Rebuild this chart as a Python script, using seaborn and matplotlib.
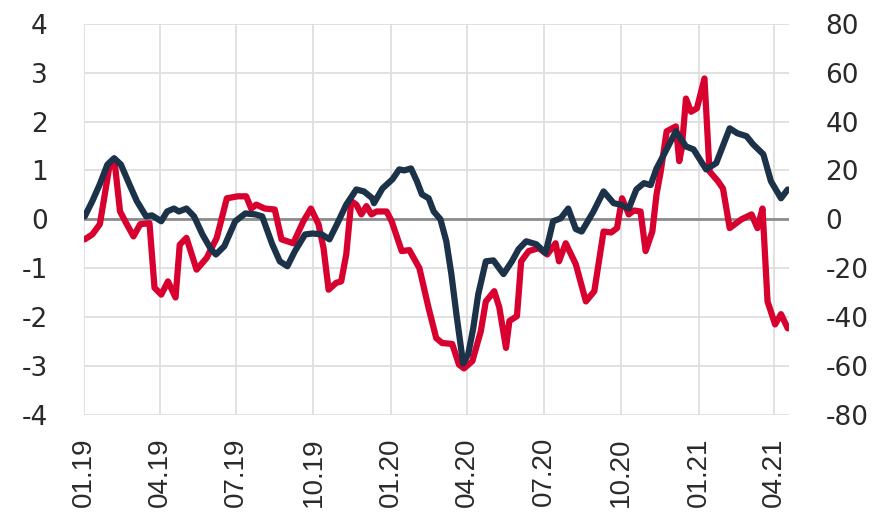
import seaborn as sns
import matplotlib.pyplot as plt
import matplotlib.dates as mdates
import pandas as pd

sns.set_style("white")
plt.rcParams["axes.unicode_minus"] = False

# red series (left axis)
red_dates = ["2019-01-02", "2019-01-11", "2019-01-20", "2019-02-01", "2019-02-07", "2019-02-13",
             "2019-02-21", "2019-03-01", "2019-03-09", "2019-03-20", "2019-03-26", "2019-04-03",
             "2019-04-11", "2019-04-20", "2019-04-25", "2019-05-03", "2019-05-15", "2019-05-27",
             "2019-06-08", "2019-06-20", "2019-07-03", "2019-07-13", "2019-07-19", "2019-07-25",
             "2019-08-04", "2019-08-16", "2019-08-24", "2019-09-07", "2019-09-19", "2019-09-28",
             "2019-10-07", "2019-10-13", "2019-10-19", "2019-10-28", "2019-11-03", "2019-11-09",
             "2019-11-15", "2019-11-21", "2019-11-27", "2019-12-03", "2019-12-09", "2019-12-15",
             "2019-12-27", "2020-01-02", "2020-01-14", "2020-01-23", "2020-02-04", "2020-02-15",
             "2020-02-24", "2020-03-02", "2020-03-14", "2020-03-22", "2020-03-28", "2020-04-07",
             "2020-04-17", "2020-04-23", "2020-05-03", "2020-05-09", "2020-05-17", "2020-05-21",
             "2020-05-30", "2020-06-04", "2020-06-13", "2020-06-25", "2020-07-05", "2020-07-15",
             "2020-07-19", "2020-07-27", "2020-08-08", "2020-08-20", "2020-08-30", "2020-09-10",
             "2020-09-19", "2020-09-26", "2020-10-02", "2020-10-10", "2020-10-16", "2020-10-24",
             "2020-10-30", "2020-11-07", "2020-11-12", "2020-11-17", "2020-11-24", "2020-12-05",
             "2020-12-09", "2020-12-12", "2020-12-17", "2020-12-23", "2020-12-30", "2021-01-08",
             "2021-01-14", "2021-01-24", "2021-01-30", "2021-02-07", "2021-02-21", "2021-03-05",
             "2021-03-12", "2021-03-18", "2021-03-24", "2021-04-02", "2021-04-09", "2021-04-17"]
red_values = [-0.41, -0.31, -0.1, 1.15, 1.1, 0.16,
              -0.1, -0.35, -0.1, -0.08, -1.4, -1.54,
              -1.27, -1.6, -0.52, -0.38, -1.03, -0.79,
              -0.38, 0.43, 0.47, 0.47, 0.22, 0.3,
              0.22, 0.2, -0.41, -0.49, -0.04, 0.22,
              -0.1, -0.59, -1.44, -1.3, -1.27, -0.72,
              0.37, 0.3, 0.1, 0.27, 0.1, 0.16,
              0.16, -0.04, -0.65, -0.63, -1.0, -1.82,
              -2.43, -2.53, -2.55, -2.97, -3.05, -2.9,
              -2.29, -1.68, -1.47, -1.8, -2.63, -2.08,
              -1.98, -0.86, -0.65, -0.59, -0.72, -0.49,
              -0.86, -0.49, -0.92, -1.68, -1.47, -0.25,
              -0.27, -0.18, 0.43, 0.1, 0.18, 0.16,
              -0.65, -0.25, 0.51, 0.98, 1.8, 1.9,
              1.19, 1.45, 2.47, 2.2, 2.27, 2.88,
              0.98, 0.78, 0.63, -0.18, 0.0, 0.1,
              -0.18, 0.22, -1.68, -2.15, -1.94, -2.23]

# navy series (right axis)
navy_dates = ["2019-01-02", "2019-01-11", "2019-01-20", "2019-01-29", "2019-02-06", "2019-02-14",
              "2019-02-24", "2019-03-05", "2019-03-16", "2019-03-23", "2019-04-03", "2019-04-10",
              "2019-04-18", "2019-04-24", "2019-05-03", "2019-05-12", "2019-05-22", "2019-06-01",
              "2019-06-07", "2019-06-17", "2019-06-30", "2019-07-12", "2019-07-24", "2019-08-01",
              "2019-08-13", "2019-08-22", "2019-08-31", "2019-09-09", "2019-09-21", "2019-09-30",
              "2019-10-11", "2019-10-20", "2019-10-29", "2019-11-09", "2019-11-21", "2019-11-30",
              "2019-12-10", "2019-12-12", "2019-12-22", "2020-01-03", "2020-01-11", "2020-01-17",
              "2020-01-25", "2020-02-01", "2020-02-07", "2020-02-15", "2020-02-21", "2020-02-29",
              "2020-03-07", "2020-03-13", "2020-03-19", "2020-03-27", "2020-04-02", "2020-04-08",
              "2020-04-14", "2020-04-23", "2020-05-02", "2020-05-14", "2020-05-24", "2020-06-01",
              "2020-06-10", "2020-06-22", "2020-07-03", "2020-07-12", "2020-07-21", "2020-07-30",
              "2020-08-08", "2020-08-15", "2020-08-29", "2020-09-10", "2020-09-22", "2020-09-30",
              "2020-10-10", "2020-10-19", "2020-10-28", "2020-11-05", "2020-11-12", "2020-11-20",
              "2020-12-05", "2020-12-17", "2020-12-26", "2021-01-10", "2021-01-22", "2021-02-07",
              "2021-02-16", "2021-02-27", "2021-03-07", "2021-03-19", "2021-03-28", "2021-04-09",
              "2021-04-17"]
navy_values = [1.2, 7.4, 14.4, 22.4, 25, 22.4,
               14.4, 7.4, 1.2, 1.6, -0.8, 3.2,
               4.4, 3.2, 4.4, 1.2, -6.2, -12.2,
               -14.4, -11, -0.8, 2.4, 2, 1.2,
               -10.2, -17.2, -19.2, -13, -6.2, -5.8,
               -6.2, -8.2, -2, 6, 12.2, 11.4,
               8.6, 6.6, 12.6, 16.4, 20.4, 20,
               20.8, 15.6, 10.2, 8.6, 3.2, 0,
               -9, -22.4, -38.8, -59, -55.2, -44.6,
               -30.6, -17.2, -16.8, -22.4, -17.2, -12.2,
               -9, -10.2, -13.8, -0.8, 0.4, 4.4,
               -4, -5, 3.2, 11.4, 6.6, 6,
               4.4, 12.2, 14.8, 14, 20.8, 26,
               36, 29.8, 28.6, 20.4, 23, 37.2,
               35.2, 34, 30.6, 26.6, 15.6, 8.6,
               12.2]

left_ticks = [-4, -3, -2, -1, 0, 1, 2, 3, 4]
right_ticks = [-80, -60, -40, -20, 0, 20, 40, 60, 80]

red_df = pd.DataFrame({"date": pd.to_datetime(red_dates), "value": red_values})
navy_df = pd.DataFrame({"date": pd.to_datetime(navy_dates), "value": navy_values})

fig = plt.figure(figsize=(8.83, 5.16), dpi=100)
ax = fig.add_axes([0.095, 0.196, 0.799, 0.758])
ax2 = ax.twinx()

ax.axhline(0, color="#8c8c8c", lw=2, zorder=1)
sns.lineplot(data=red_df, x="date", y="value", ax=ax, color="#d7002e", lw=4.5, zorder=3)
sns.lineplot(data=navy_df, x="date", y="value", ax=ax2, color="#1c3249", lw=4.5, zorder=3)

ax.set_ylim(-4, 4)
ax2.set_ylim(-80, 80)
ax.set_yticks(left_ticks)
ax2.set_yticks(right_ticks)
ax.set_xlim(pd.Timestamp("2019-01-01"), pd.Timestamp("2021-04-19"))
ax.xaxis.set_major_locator(mdates.MonthLocator(bymonth=[1, 4, 7, 10]))
ax.xaxis.set_major_formatter(mdates.DateFormatter("%m.%y"))

ax.grid(True, color="#dedede", lw=1.3)
ax.set_axisbelow(True)
for a in (ax, ax2):
    a.set_xlabel("")
    a.set_ylabel("")
    for s in a.spines.values():
        s.set_visible(False)

ax.tick_params(axis="y", length=0, pad=26, labelsize=19, labelcolor="#2a2a2a")
ax2.tick_params(axis="y", length=0, pad=26, labelsize=19, labelcolor="#2a2a2a")
ax.tick_params(axis="x", length=0, pad=16, labelsize=20, labelcolor="#2a2a2a",
               labelrotation=90, labelfontfamily="Liberation Sans")

fig.savefig("out.png", dpi=100)
